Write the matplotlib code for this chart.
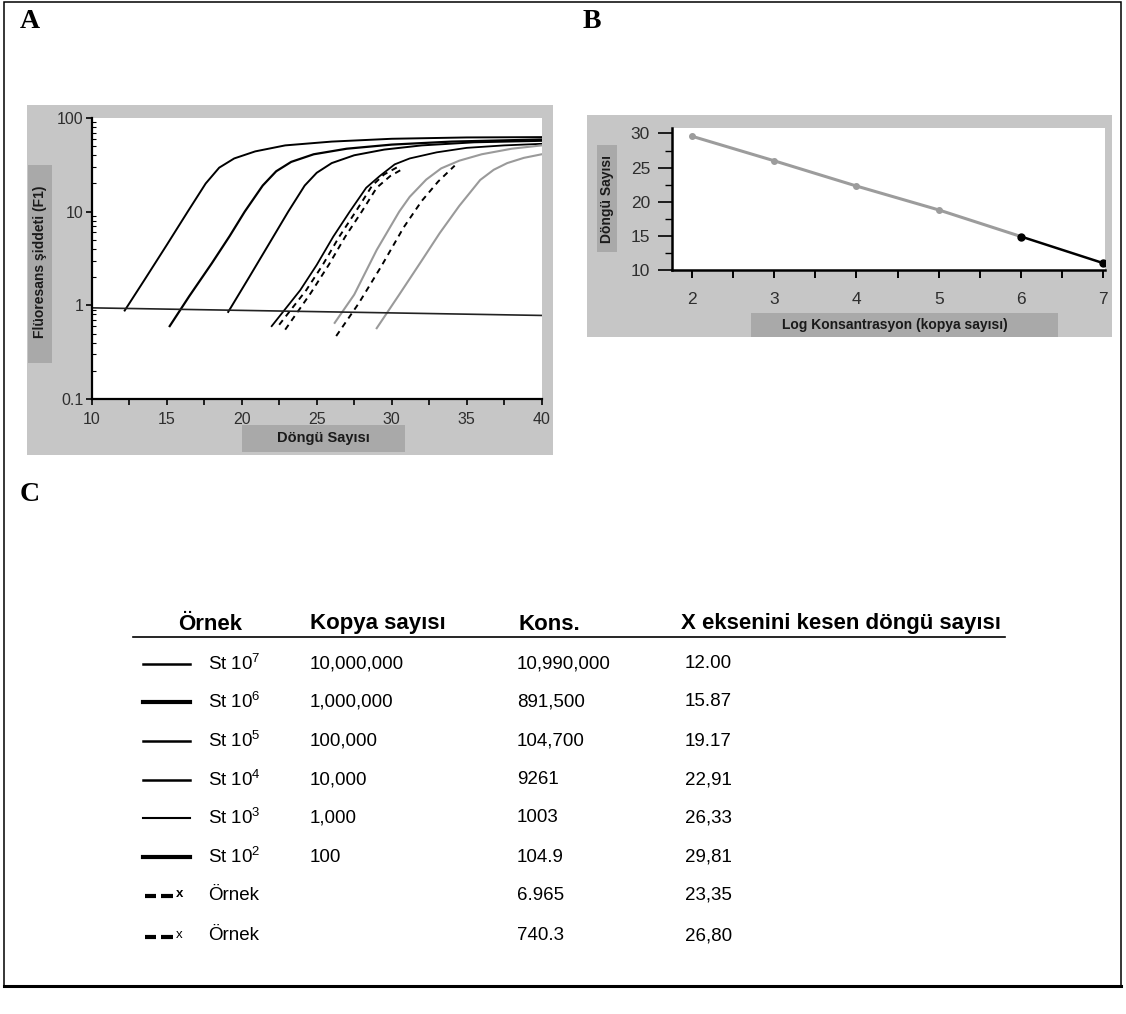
import matplotlib
matplotlib.use('Agg')
import matplotlib.pyplot as plt
import matplotlib.ticker as ticker
from matplotlib.patches import Rectangle
from matplotlib.lines import Line2D

plt.rcParams['font.family'] = ['Liberation Sans', 'DejaVu Sans']
plt.rcParams['mathtext.fontset'] = 'custom'
plt.rcParams['mathtext.rm'] = 'Liberation Sans'
plt.rcParams['mathtext.default'] = 'rm'

W, H = 1126, 1014

# --- panel A: amplification curves (cycle, fluorescence)
st7_cyc = [12.2, 13.5, 15.0, 16.4, 17.6, 18.5, 19.5, 20.9, 22.9, 26.0, 30.0, 35.0, 40.0]
st7_fl = [0.88, 1.85, 4.4, 10, 20, 29.5, 37, 44, 51, 56, 60, 62, 62.5]
st6_cyc = [15.2, 16.5, 18.0, 19.2, 20.2, 21.4, 22.3, 23.3, 24.8, 27.0, 30.0, 34.0, 40.0]
st6_fl = [0.6, 1.25, 2.8, 5.5, 10, 19, 27, 34, 41, 47, 52, 56, 59]
st5_cyc = [19.1, 20.5, 21.7, 23.1, 24.2, 25.0, 26.0, 27.5, 29.5, 32.0, 35.5, 40.0]
st5_fl = [0.85, 2.0, 4.2, 10, 19, 26, 33, 40, 46, 51, 55, 57]
st4_cyc = [22.0, 23.9, 25.0, 26.1, 27.2, 28.3, 29.2, 30.2, 31.2, 33.0, 35.0, 37.5, 40.0]
st4_fl = [0.6, 1.45, 2.7, 5.4, 10, 18, 24, 32, 37, 43, 48, 51, 53]
st3_cyc = [26.2, 27.5, 29.0, 30.5, 31.2, 32.3, 33.3, 34.5, 36.0, 38.0, 40.0]
st3_fl = [0.65, 1.3, 3.9, 10, 14.4, 22, 29, 35, 41, 47, 51]
st2_cyc = [29.0, 30.5, 32.0, 33.2, 34.5, 35.9, 36.8, 37.7, 38.8, 40.0]
st2_fl = [0.57, 1.3, 3.0, 5.9, 11.5, 21.8, 28, 33, 37.5, 41]
smp1a_cyc = [22.5, 24.3, 25.4, 26.5, 27.6, 28.7, 29.5, 30.4]
smp1a_fl = [0.62, 1.45, 2.7, 5.4, 10, 19, 25, 30]
smp1b_cyc = [22.9, 24.6, 25.8, 26.9, 28.0, 29.0, 29.9, 30.8]
smp1b_fl = [0.55, 1.35, 2.7, 5.4, 10, 18, 24, 29]
smp2_cyc = [26.3, 27.8, 29.3, 30.8, 32.0, 33.1, 34.2]
smp2_fl = [0.47, 1.05, 2.6, 6.8, 13, 21, 31]
threshold_cyc = [10, 40]
threshold_fl = [0.94, 0.78]

# --- panel B: standard curve
log_conc = [2, 3, 4, 5, 6, 7]
ct_fit = [29.6, 26.0, 22.3, 18.8, 14.9, 11.0]

# --- panel C: table
sample_names = [r'St 10$^{7}$', r'St 10$^{6}$', r'St 10$^{5}$', r'St 10$^{4}$',
                r'St 10$^{3}$', r'St 10$^{2}$', 'Örnek', 'Örnek']
copy_numbers = ['10,000,000', '1,000,000', '100,000', '10,000', '1,000', '100', '', '']
conc_values = ['10,990,000', '891,500', '104,700', '9261', '1003', '104.9', '6.965', '740.3']
ct_values = ['12.00', '15.87', '19.17', '22,91', '26,33', '29,81', '23,35', '26,80']
headers = ['Örnek', 'Kopya sayısı', 'Kons.', 'X eksenini kesen döngü sayısı']


def fx(px):
    return px / W


def fy(py):
    return 1 - py / H


fig = plt.figure(figsize=(W / 100, H / 100), dpi=100)
fig.patch.set_facecolor('white')


def box(x0, y0, x1, y1, color, z=-2):
    fig.add_artist(Rectangle((fx(x0), fy(y1)), (x1 - x0) / W, (y1 - y0) / H,
                             transform=fig.transFigure, facecolor=color,
                             edgecolor='none', zorder=z))


def ftext(x, y, s, **kw):
    fig.text(fx(x), fy(y), s, transform=fig.transFigure, **kw)


def hline(x0, x1, y, **kw):
    fig.add_artist(Line2D([fx(x0), fx(x1)], [fy(y), fy(y)], transform=fig.transFigure, **kw))


# grey backgrounds of the two instrument plots
box(27, 105, 553, 455, '#c6c6c6')
box(28, 165, 52, 363, '#a9a9a9', -1)
box(242, 425, 405, 452, '#a9a9a9', -1)
box(587, 115, 1112, 337, '#c6c6c6')
box(597, 145, 617, 252, '#a9a9a9', -1)
box(751, 313, 1058, 337, '#a9a9a9', -1)

tick_col = '#2e2e2e'

# ---------------- panel A
ax_a = fig.add_axes([fx(91.7), fy(399), 450 / W, 281 / H])
ax_a.set_facecolor('white')
curves = [
    (st7_cyc, st7_fl, 'black', 1.4, '-'),
    (st6_cyc, st6_fl, 'black', 1.6, '-'),
    (st5_cyc, st5_fl, 'black', 1.4, '-'),
    (st4_cyc, st4_fl, 'black', 1.3, '-'),
    (smp1a_cyc, smp1a_fl, 'black', 1.4, '--'),
    (smp1b_cyc, smp1b_fl, 'black', 1.4, '--'),
    (st3_cyc, st3_fl, '#9a9a9a', 1.5, '-'),
    (smp2_cyc, smp2_fl, 'black', 1.4, '--'),
    (st2_cyc, st2_fl, '#9a9a9a', 1.5, '-'),
]
for cx, cy, col, lw, ls in curves:
    line, = ax_a.plot(cx, cy, color=col, lw=lw, ls=ls)
    if ls == '--':
        line.set_dashes((3, 2.5))
ax_a.plot(threshold_cyc, threshold_fl, color='#222222', lw=1.2)
ax_a.set_yscale('log')
ax_a.set_xlim(10, 40)
ax_a.set_ylim(0.1, 100)
ax_a.spines['top'].set_visible(False)
ax_a.spines['right'].set_visible(False)
ax_a.spines['left'].set_linewidth(1.6)
ax_a.spines['bottom'].set_linewidth(1.6)
ax_a.xaxis.set_major_locator(ticker.MultipleLocator(5))
ax_a.xaxis.set_minor_locator(ticker.MultipleLocator(2.5))
ax_a.yaxis.set_major_locator(ticker.FixedLocator([0.1, 1, 10, 100]))
ax_a.yaxis.set_major_formatter(ticker.FuncFormatter(lambda v, p: f'{v:g}'))
ax_a.yaxis.set_minor_locator(ticker.LogLocator(base=10, subs=range(2, 10)))
ax_a.yaxis.set_minor_formatter(ticker.NullFormatter())
ax_a.tick_params(axis='x', which='both', direction='out', length=4, width=1.2,
                 labelsize=11.5, pad=5, labelcolor=tick_col)
ax_a.tick_params(axis='y', which='major', direction='out', length=4, width=1.2,
                 labelsize=11.5, pad=2, labelcolor=tick_col)
ax_a.tick_params(axis='y', which='minor', direction='in', length=3, width=0.8)

ftext(40, 262, 'Flüoresans şiddeti (F1)', rotation=90, ha='center', va='center',
      fontsize=10, fontweight='bold', color='#1a1a1a')
ftext(323, 438, 'Döngü Sayısı', ha='center', va='center',
      fontsize=10.5, fontweight='bold', color='#1a1a1a')

# ---------------- panel B
ax_b = fig.add_axes([fx(672.3), fy(270), (1105 - 672.3) / W, (270 - 128) / H])
ax_b.set_facecolor('white')
ax_b.plot(log_conc[:5], ct_fit[:5], color='#9c9c9c', lw=2.2, marker='o',
          ms=4, mfc='#9c9c9c', mec='#9c9c9c', zorder=3)
ax_b.plot(log_conc[4:], ct_fit[4:], color='black', lw=1.8, marker='o',
          ms=5, mfc='black', mec='black', zorder=4)
ax_b.set_xlim(1.763, 7.02)
ax_b.set_ylim(10, 30.8)
ax_b.spines['top'].set_visible(False)
ax_b.spines['right'].set_visible(False)
ax_b.spines['left'].set_linewidth(1.8)
ax_b.spines['bottom'].set_linewidth(1.8)
ax_b.xaxis.set_major_locator(ticker.MultipleLocator(1))
ax_b.xaxis.set_minor_locator(ticker.MultipleLocator(0.5))
ax_b.yaxis.set_major_locator(ticker.MultipleLocator(5))
ax_b.yaxis.set_minor_locator(ticker.MultipleLocator(2.5))
ax_b.tick_params(axis='x', which='both', direction='out', length=6, width=1.4,
                 labelsize=12.5, pad=10, labelcolor=tick_col)
ax_b.tick_params(axis='y', which='major', direction='out', length=10, width=1.2,
                 labelsize=12.5, pad=6, labelcolor=tick_col)
ax_b.tick_params(axis='y', which='minor', direction='out', length=5, width=1.0)

ftext(607, 199, 'Döngü Sayısı', rotation=90, ha='center', va='center',
      fontsize=10, fontweight='bold', color='#1a1a1a')
ftext(895, 325, 'Log Konsantrasyon (kopya sayısı)', ha='center', va='center',
      fontsize=10, fontweight='bold', color='#1a1a1a')

# ---------------- panel letters
for letter, x, y in [('A', 20, 22), ('B', 583, 22), ('C', 20, 495)]:
    ftext(x, y, letter, ha='left', va='center', fontsize=20, fontweight='bold',
          family=['Liberation Serif', 'DejaVu Serif'])

# ---------------- panel C: table
header_x = [178, 310, 518, 681]
for hx, h in zip(header_x, headers):
    ftext(hx, 624, h, ha='left', va='center', fontsize=16, fontweight='bold')
hline(133, 1005, 637, color='black', lw=1.2)

row_y = [664, 702, 741, 780, 818, 857, 895, 936]
key_lw = [1.8, 3.0, 1.8, 1.8, 1.5, 3.0]
for i, yy in enumerate(row_y):
    if i < len(key_lw):
        hline(143, 190, yy, color='black', lw=key_lw[i])
    else:
        hline(145, 156, yy + 1, color='black', lw=3.0, solid_capstyle='butt')
        hline(161, 173, yy + 1, color='black', lw=3.0, solid_capstyle='butt')
        ftext(176, yy - 1, 'x', ha='left', va='center', fontsize=9.5,
              fontweight='bold' if i == 6 else 'normal')
    ftext(208, yy, sample_names[i], ha='left', va='center', fontsize=13.5)
    ftext(310, yy, copy_numbers[i], ha='left', va='center', fontsize=13.5)
    ftext(517, yy, conc_values[i], ha='left', va='center', fontsize=13.5)
    ftext(685, yy, ct_values[i], ha='left', va='center', fontsize=13.5)

# ---------------- outer frame
fig.add_artist(Rectangle((fx(4), fy(986)), (1121 - 4) / W, (986 - 2) / H,
                         transform=fig.transFigure, facecolor='none',
                         edgecolor='black', lw=1.1, zorder=5))
hline(4, 1121, 986, color='black', lw=2.2, zorder=5)

fig.savefig('out.png', dpi=100)
